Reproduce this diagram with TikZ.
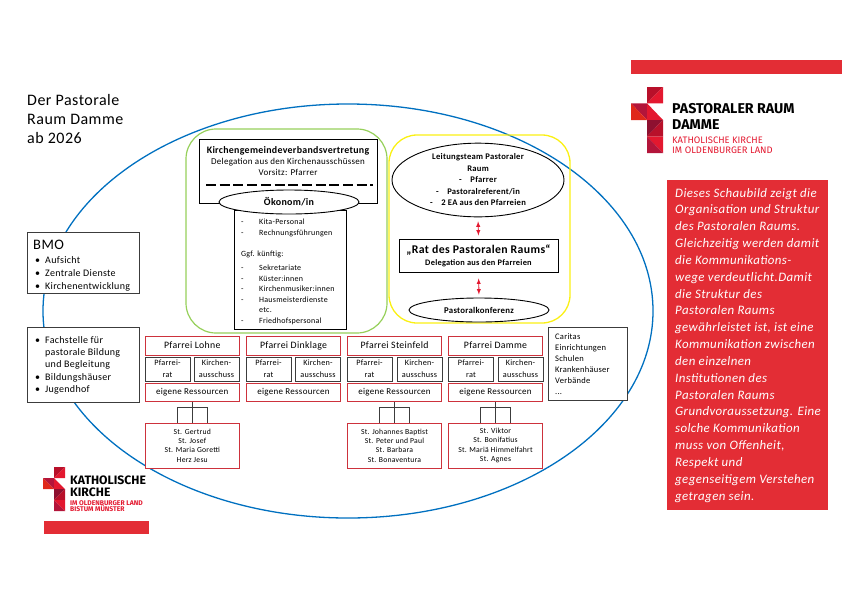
\documentclass[tikz,border=0pt]{standalone}
\usepackage{fontspec}
\setmainfont[LetterSpace=3]{Carlito}
\newfontfamily\logofont{Fira Sans}
\usepackage{xcolor}
\usetikzlibrary{shapes,arrows,positioning,calc}
\definecolor{raumblue}{RGB}{0,112,192}
\definecolor{oekogreen}{RGB}{150,208,90}
\definecolor{teamyellow}{RGB}{250,240,20}
\definecolor{bandred}{RGB}{227,45,53}
\definecolor{pfarrred}{RGB}{205,50,60}
\definecolor{boxgrey}{RGB}{60,60,60}
\definecolor{logored}{RGB}{227,24,47}
\definecolor{logodark}{RGB}{184,16,42}
\definecolor{logowine}{RGB}{142,16,48}
\definecolor{logoplum}{RGB}{179,21,58}
\definecolor{logoorange}{RGB}{224,40,26}
\newcommand{\fsize}[2]{\fontsize{#1}{#2}\selectfont}
\newcommand{\bulletitem}[1]{\makebox[10pt][l]{\textbullet}#1}
\newcommand{\dashitem}[1]{\makebox[18pt][l]{-}#1}
\tikzset{
  blackbox/.style={draw=black, fill=white, line width=0.9pt, inner sep=0pt, align=center},
  greybox/.style={draw=boxgrey, fill=white, line width=1pt, inner sep=0pt, align=center},
  pfarrbox/.style={draw=pfarrred, fill=white, line width=1pt, inner sep=0pt, align=center, minimum width=94.5pt},
  namebox/.style={pfarrbox, minimum height=19pt, font=\fsize{9.8}{12}},
  resbox/.style={pfarrbox, minimum height=18pt, font=\fsize{9}{10}},
  kirchbox/.style={pfarrbox, minimum height=45pt, font=\fsize{7.7}{9.4}},
  gremiumbox/.style={greybox, minimum width=45pt, minimum height=24pt, font=\fsize{8.2}{12}},
  oval/.style={ellipse, draw=black, fill=white, line width=0.9pt, inner sep=0pt, align=center},
  bandbar/.style={fill=bandred, draw=none, inner sep=0pt},
  freetext/.style={anchor=west, inner sep=0pt, align=left},
  treeline/.style={draw=boxgrey, line width=0.9pt},
  redarrow/.style={<->, >=latex, draw=logored, line width=0.9pt},
  logoname/.style={freetext, font=\logofont\bfseries\fsize{14.2}{12}, text=black},
  logosub/.style={freetext, font=\logofont\fsize{9.4}{8}, text=logored}
}
\begin{document}
\begin{tikzpicture}[x=1pt, y=-1pt]
  \useasboundingbox (0,0) rectangle (842,595);
  % big oval behind everything
  \node[ellipse, draw=raumblue, line width=1.3pt, minimum width=610pt, minimum height=414pt, inner sep=0pt] (raum) at (348,311) {};

  % title and bars
  \node[freetext, font=\fsize{16}{19}] (title) at (27,119) {Der Pastorale\\Raum Damme\\ab 2026};
  \node[bandbar, minimum width=211pt, minimum height=14pt] (topbar) at (736.5,67) {};
  \node[bandbar, minimum width=105pt, minimum height=13pt] (bottombar) at (96.5,527.5) {};

  % logo top right
  \fill[logodark] (647,87) -- (663,87) -- (647,103.3) -- cycle;
  \fill[logored] (663,87) -- (663,103.3) -- (647,103.3) -- cycle;
  \fill[logoplum] (631,103.3) -- (647,103.3) -- (647,120) -- cycle;
  \fill[logoorange] (631,103.3) -- (647,120) -- (631,120) -- cycle;
  \fill[logored] (647,103.3) -- (663,120) -- (647,120) -- cycle;
  \fill[logowine] (647,120) -- (663,120) -- (647,136.5) -- cycle;
  \fill[logodark] (663,120) -- (663,136.5) -- (647,136.5) -- cycle;
  \fill[logored] (647,136.5) -- (663,136.5) -- (663,153) -- cycle;
  \fill[logoplum] (647,136.5) -- (663,153) -- (647,153) -- cycle;
  \node[logoname] (raumname) at (672,109) {PASTORALER RAUM};
  \node[logoname] (dammename) at (672,125) {DAMME};
  \node[logosub] (kkname) at (672,140) {KATHOLISCHE KIRCHE};
  \node[logosub] (olname) at (672,150) {IM OLDENBURGER LAND};

  % logo bottom left
  \fill[logodark] (54,467) -- (65,467) -- (54,478) -- cycle;
  \fill[logored] (65,467) -- (65,478) -- (54,478) -- cycle;
  \fill[logoplum] (43,478) -- (54,478) -- (54,489) -- cycle;
  \fill[logoorange] (43,478) -- (54,489) -- (43,489) -- cycle;
  \fill[logored] (54,478) -- (65,489) -- (54,489) -- cycle;
  \fill[logowine] (54,489) -- (65,489) -- (54,500) -- cycle;
  \fill[logodark] (65,489) -- (65,500) -- (54,500) -- cycle;
  \fill[logored] (54,500) -- (65,500) -- (65,511) -- cycle;
  \fill[logoplum] (54,500) -- (65,511) -- (54,511) -- cycle;
  \node[freetext, font=\logofont\bfseries\fsize{12.2}{11.6}, text=black] (kathname) at (70,486.5) {KATHOLISCHE\\KIRCHE};
  \node[freetext, font=\logofont\bfseries\fsize{6.8}{6.6}, text=logored] (bistumname) at (70,506) {IM OLDENBURGER LAND\\BISTUM MÜNSTER};

  % green group
  \node[draw=oekogreen, fill=white, line width=1.2pt, rounded corners=30pt, minimum width=201pt, minimum height=204pt] (verband) at (286.5,231) {};
  \node[blackbox, minimum width=178pt, minimum height=64pt] (vertretung) at (288,171) {};
  \node[inner sep=0pt, align=center, font=\fsize{9}{11}] (vertretungtext) at (288,161) {{\fsize{9.9}{11}\bfseries Kirchengemeindeverbandsvertretung}\\Delegation aus den Kirchenausschüssen\\Vorsitz: Pfarrer};
  \coordinate (dashleft) at (206,185);
  \coordinate (dashright) at (373,185);
  \draw[line width=1.2pt, dash pattern=on 10pt off 3.7pt] (dashleft) -- (dashright);
  \node[blackbox, minimum width=112pt, minimum height=119pt] (aufgaben) at (290,269.5) {};
  \node[oval, minimum width=140pt, minimum height=24pt, font=\fsize{10}{12}\bfseries] (oekonom) at (289,202) {Ökonom/in};
  \node[freetext, anchor=north west, font=\fsize{8}{10.6}] (aufgabenliste) at (241,219) {\dashitem{Kita-Personal}\\\dashitem{Rechnungsführungen}\\[10.5pt]Ggf. künftig:\\[3.5pt]\dashitem{Sekretariate}\\\dashitem{Küster:innen}\\\dashitem{Kirchenmusiker:innen}\\\dashitem{Hausmeisterdienste}\\\hspace*{18pt}etc.\\\dashitem{Friedhofspersonal}};

  % yellow group
  \node[draw=teamyellow, line width=1.3pt, rounded corners=28pt, minimum width=181pt, minimum height=188pt] (team) at (479.5,229) {};
  \node[oval, minimum width=172pt, minimum height=68pt, font=\fsize{8.6}{11.5}\bfseries] (leitung) at (478,180) {Leitungsteam Pastoraler\\Raum\\-\quad Pfarrer\\-\quad Pastoralreferent/in\\-\quad 2 EA aus den Pfarreien};
  \node[blackbox, minimum width=159pt, minimum height=33pt, font=\fsize{8.4}{12}\bfseries] (rat) at (478.5,255.5) {{\fsize{11.8}{13}„Rat des Pastoralen Raums“}\\Delegation aus den Pfarreien};
  \node[oval, minimum width=140pt, minimum height=24pt, font=\fsize{8.8}{10}\bfseries] (konferenz) at (479,310) {Pastoralkonferenz};
  \draw[redarrow, shorten >=3pt, shorten <=4pt] (leitung.south) -- (rat.north);
  \draw[redarrow, shorten >=3pt, shorten <=6pt] (rat.south) -- (konferenz.north);

  % left boxes
  \node[greybox, minimum width=112pt, minimum height=61pt] (bmo) at (83,262.5) {};
  \node[freetext, anchor=north west, font=\fsize{10}{13}] (bmotext) at (35,239.5) {\hspace*{-2pt}{\fsize{14.5}{14}BMO}\\[1pt]\bulletitem{Aufsicht}\\\bulletitem{Zentrale Dienste}\\\bulletitem{Kirchenentwicklung}};
  \node[greybox, minimum width=112pt, minimum height=75pt] (fach) at (83,364.5) {};
  \node[freetext, anchor=north west, font=\fsize{10}{12.4}] (fachtext) at (35,336) {\bulletitem{Fachstelle für}\\\hspace*{10pt}pastorale Bildung\\\hspace*{10pt}und Begleitung\\\bulletitem{Bildungshäuser}\\\bulletitem{Jugendhof}};

  % Pfarrei Lohne
  \node[namebox] (lohne) at (192.25,345.5) {Pfarrei Lohne};
  \node[gremiumbox] (ratlohne) at (167.5,369) {Pfarrei-\\rat};
  \node[gremiumbox] (kalohne) at (216.5,369) {Kirchen-\\ausschuss};
  \node[resbox] (reslohne) at (192.25,392) {eigene Ressourcen};
  \node[kirchbox] (stlohne) at (192.25,445.5) {St. Gertrud\\St. Josef\\St. Maria Goretti\\Herz Jesu};
  \draw[treeline] (reslohne) -- (stlohne);
  \draw[treeline] ([xshift=-15pt]stlohne.north) -- ++(0,-15) -- ++(30,0) -- ++(0,15);

  % Pfarrei Dinklage
  \node[namebox] (dinklage) at (293.5,345.5) {Pfarrei Dinklage};
  \node[gremiumbox] (ratdinklage) at (268.5,369) {Pfarrei-\\rat};
  \node[gremiumbox] (kadinklage) at (318,369) {Kirchen-\\ausschuss};
  \node[resbox] (resdinklage) at (293.5,392) {eigene Ressourcen};

  % Pfarrei Steinfeld
  \node[namebox] (steinfeld) at (394.5,345.5) {Pfarrei Steinfeld};
  \node[gremiumbox] (ratsteinfeld) at (369.5,369) {Pfarrei-\\rat};
  \node[gremiumbox] (kasteinfeld) at (419.5,369) {Kirchen-\\ausschuss};
  \node[resbox] (ressteinfeld) at (394.5,392) {eigene Ressourcen};
  \node[kirchbox] (ststeinfeld) at (394.5,445.5) {St. Johannes Baptist\\St. Peter und Paul\\St. Barbara\\St. Bonaventura};
  \draw[treeline] (ressteinfeld) -- (ststeinfeld);
  \draw[treeline] ([xshift=-15pt]ststeinfeld.north) -- ++(0,-15) -- ++(30,0) -- ++(0,15);

  % Pfarrei Damme
  \node[namebox] (damme) at (495.5,345.5) {Pfarrei Damme};
  \node[gremiumbox] (ratdamme) at (471,369) {Pfarrei-\\rat};
  \node[gremiumbox] (kadamme) at (520.5,369) {Kirchen-\\ausschuss};
  \node[resbox] (resdamme) at (495.5,392) {eigene Ressourcen};
  \node[kirchbox] (stdamme) at (495.5,445.5) {St. Viktor\\St. Bonifatius\\St. Mariä Himmelfahrt\\St. Agnes};
  \draw[treeline] (resdamme) -- (stdamme);
  \draw[treeline] ([xshift=-15pt]stdamme.north) -- ++(0,-15) -- ++(30,0) -- ++(0,15);

  % other institutions
  \node[greybox, minimum width=79pt, minimum height=73pt] (caritas) at (587.5,363.5) {};
  \node[freetext, anchor=north west, font=\fsize{8.5}{11.1}] (caritastext) at (555,333) {Caritas\\Einrichtungen\\Schulen\\Krankenhäuser\\Verbände\\...};

  % red panel
  \node[fill=bandred, inner sep=0pt, minimum width=161pt, minimum height=330pt] (panel) at (747.5,345) {};
  \node[freetext, anchor=north west, text=white, font=\fsize{12.9}{16.83}\itshape] (paneltext) at (675,188) {Dieses Schaubild zeigt die\\Organisation und Struktur\\des Pastoralen Raums.\\Gleichzeitig werden damit\\die Kommunikations-\\wege verdeutlicht.Damit\\die Struktur des\\Pastoralen Raums\\gewährleistet ist, ist eine\\Kommunikation zwischen\\den einzelnen\\Institutionen des\\Pastoralen Raums\\Grundvoraussetzung. Eine\\solche Kommunikation\\muss von Offenheit,\\Respekt und\\gegenseitigem Verstehen\\getragen sein.};
\end{tikzpicture}
\end{document}
